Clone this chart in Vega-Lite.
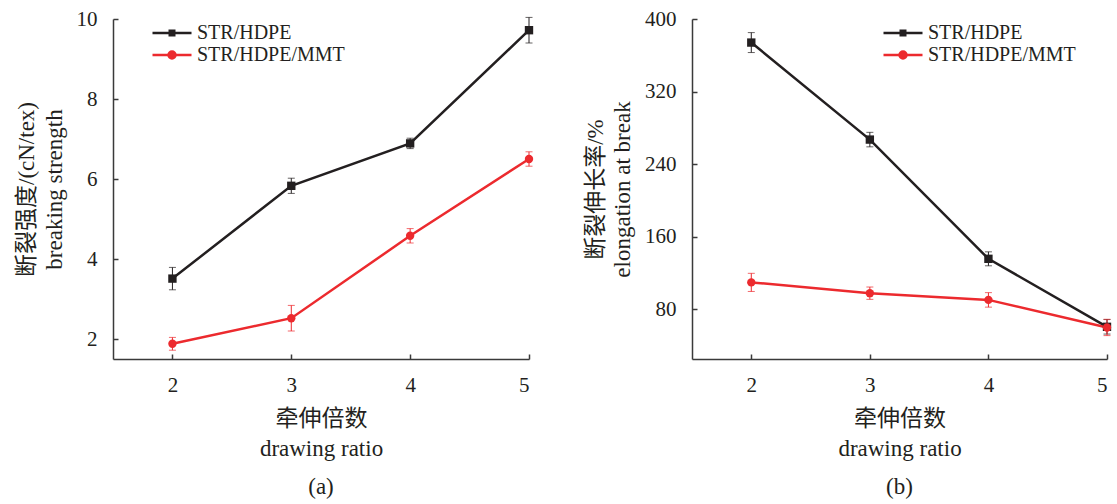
{
  "$schema": "https://vega.github.io/schema/vega-lite/v6.json",
  "padding": {"left": 15, "top": 8, "right": 0, "bottom": 0},
  "background": "white",
  "config": {
    "view": {"stroke": null},
    "font": "'Liberation Serif', 'Noto Sans CJK SC', serif",
    "axis": {
      "grid": false,
      "domainColor": "#3a3a3a",
      "domainWidth": 1.5,
      "tickColor": "#3a3a3a",
      "tickWidth": 1.5,
      "tickSize": -5,
      "labelFont": "'Liberation Serif', 'Noto Sans CJK SC', serif",
      "labelFontSize": 21,
      "labelColor": "#231f20",
      "labelPadding": 20,
      "titleFont": "'Liberation Serif', 'Noto Sans CJK SC', serif",
      "titleFontSize": 23,
      "titleFontWeight": "normal",
      "titleColor": "#231f20",
      "titleLineHeight": 27.5
    },
    "axisY": {"labelPadding": 21, "titlePadding": 10},
    "axisX": {"titlePadding": 12, "titleLineHeight": 30},
    "legend": {
      "orient": "none",
      "title": null,
      "padding": 0,
      "symbolSize": 100,
      "labelOffset": 15,
      "labelFont": "'Liberation Serif', 'Noto Sans CJK SC', serif",
      "labelFontSize": 20,
      "labelColor": "#231f20",
      "rowPadding": 2
    },
    "title": {
      "font": "'Liberation Serif', 'Noto Sans CJK SC', serif",
      "fontSize": 23,
      "fontWeight": "normal",
      "color": "#231f20",
      "offset": 16
    }
  },
  "datasets": {
    "a": [
      {"series": "STR/HDPE", "ratio": 2, "value": 3.51, "err": 0.28},
      {"series": "STR/HDPE", "ratio": 3, "value": 5.83, "err": 0.19},
      {"series": "STR/HDPE", "ratio": 4, "value": 6.89, "err": 0.13},
      {"series": "STR/HDPE", "ratio": 5, "value": 9.72, "err": 0.32},
      {"series": "STR/HDPE/MMT", "ratio": 2, "value": 1.88, "err": 0.16},
      {"series": "STR/HDPE/MMT", "ratio": 3, "value": 2.52, "err": 0.32},
      {"series": "STR/HDPE/MMT", "ratio": 4, "value": 4.58, "err": 0.18},
      {"series": "STR/HDPE/MMT", "ratio": 5, "value": 6.5, "err": 0.18}
    ],
    "b": [
      {"series": "STR/HDPE", "ratio": 2, "value": 374, "err": 11},
      {"series": "STR/HDPE", "ratio": 3, "value": 267, "err": 8},
      {"series": "STR/HDPE", "ratio": 4, "value": 135.5, "err": 7.7},
      {"series": "STR/HDPE", "ratio": 5, "value": 60.5, "err": 8},
      {"series": "STR/HDPE/MMT", "ratio": 2, "value": 109.5, "err": 10},
      {"series": "STR/HDPE/MMT", "ratio": 3, "value": 97.6, "err": 6.8},
      {"series": "STR/HDPE/MMT", "ratio": 4, "value": 90.2, "err": 8},
      {"series": "STR/HDPE/MMT", "ratio": 5, "value": 59.8, "err": 9}
    ]
  },
  "spacing": 50,
  "resolve": {"scale": {"color": "independent"}, "legend": {"color": "independent"}},
  "hconcat": [
    {
      "width": 416,
      "height": 340,
      "title": {"text": "(a)", "orient": "bottom"},
      "data": {"name": "a"},
      "encoding": {
        "x": {"field": "ratio", "type": "quantitative", "scale": {"domain": [1.5, 5], "nice": false, "zero": false}, "axis": {"values": [2, 3, 4, 5], "title": ["牵伸倍数", "drawing ratio"]}},
        "y": {"field": "value", "type": "quantitative", "scale": {"domain": [1.5, 10], "nice": false, "zero": false}, "axis": {"values": [2, 4, 6, 8, 10], "title": ["断裂强度/(cN/tex)", "breaking strength"]}},
        "color": {
          "field": "series", "type": "nominal",
          "scale": {"domain": ["STR/HDPE", "STR/HDPE/MMT"], "range": ["#231f20", "#ec2a2e"]},
          "legend": {
            "legendX": 49, "legendY": 4,
            "encode": {"symbols": {"update": {
              "shape": {"signal": "datum.value === 'STR/HDPE' ? 'M-3.9,0H3.9M-0.45,-0.45H0.45V0.45H-0.45Z' : 'M-3.9,0H3.9M-0.7,0A0.7,0.7 0 1,0 0.7,0A0.7,0.7 0 1,0 -0.7,0Z'"},
              "fill": {"signal": "datum.value === 'STR/HDPE' ? '#231f20' : '#ec2a2e'"},
              "stroke": {"signal": "datum.value === 'STR/HDPE' ? '#231f20' : '#ec2a2e'"},
              "strokeWidth": {"value": 2.5},
              "opacity": {"value": 1}
            }}}
          }
        }
      },
      "layer": [
        {"mark": {"type": "errorbar", "ticks": {"size": 7}, "thickness": 1}, "encoding": {"yError": {"field": "err"}}},
        {"mark": {"type": "line", "strokeWidth": 2.5}},
        {"transform": [{"filter": "datum.series === 'STR/HDPE'"}], "mark": {"type": "point", "shape": "square", "filled": true, "size": 70, "opacity": 1}},
        {"transform": [{"filter": "datum.series === 'STR/HDPE/MMT'"}], "mark": {"type": "point", "shape": "circle", "filled": true, "size": 70, "opacity": 1}}
      ]
    },
    {
      "width": 415,
      "height": 340,
      "title": {"text": "(b)", "orient": "bottom"},
      "data": {"name": "b"},
      "encoding": {
        "x": {"field": "ratio", "type": "quantitative", "scale": {"domain": [1.5, 5], "nice": false, "zero": false}, "axis": {"values": [2, 3, 4, 5], "title": ["牵伸倍数", "drawing ratio"]}},
        "y": {"field": "value", "type": "quantitative", "scale": {"domain": [25, 400], "nice": false, "zero": false}, "axis": {"values": [80, 160, 240, 320, 400], "title": ["断裂伸长率/%", "elongation at break"]}},
        "color": {
          "field": "series", "type": "nominal",
          "scale": {"domain": ["STR/HDPE", "STR/HDPE/MMT"], "range": ["#231f20", "#ec2a2e"]},
          "legend": {
            "legendX": 201, "legendY": 4,
            "encode": {"symbols": {"update": {
              "shape": {"signal": "datum.value === 'STR/HDPE' ? 'M-3.9,0H3.9M-0.45,-0.45H0.45V0.45H-0.45Z' : 'M-3.9,0H3.9M-0.7,0A0.7,0.7 0 1,0 0.7,0A0.7,0.7 0 1,0 -0.7,0Z'"},
              "fill": {"signal": "datum.value === 'STR/HDPE' ? '#231f20' : '#ec2a2e'"},
              "stroke": {"signal": "datum.value === 'STR/HDPE' ? '#231f20' : '#ec2a2e'"},
              "strokeWidth": {"value": 2.5},
              "opacity": {"value": 1}
            }}}
          }
        }
      },
      "layer": [
        {"mark": {"type": "errorbar", "ticks": {"size": 7}, "thickness": 1}, "encoding": {"yError": {"field": "err"}}},
        {"mark": {"type": "line", "strokeWidth": 2.5}},
        {"transform": [{"filter": "datum.series === 'STR/HDPE'"}], "mark": {"type": "point", "shape": "square", "filled": true, "size": 70, "opacity": 1}},
        {"transform": [{"filter": "datum.series === 'STR/HDPE/MMT'"}], "mark": {"type": "point", "shape": "circle", "filled": true, "size": 70, "opacity": 1}}
      ]
    }
  ]
}
